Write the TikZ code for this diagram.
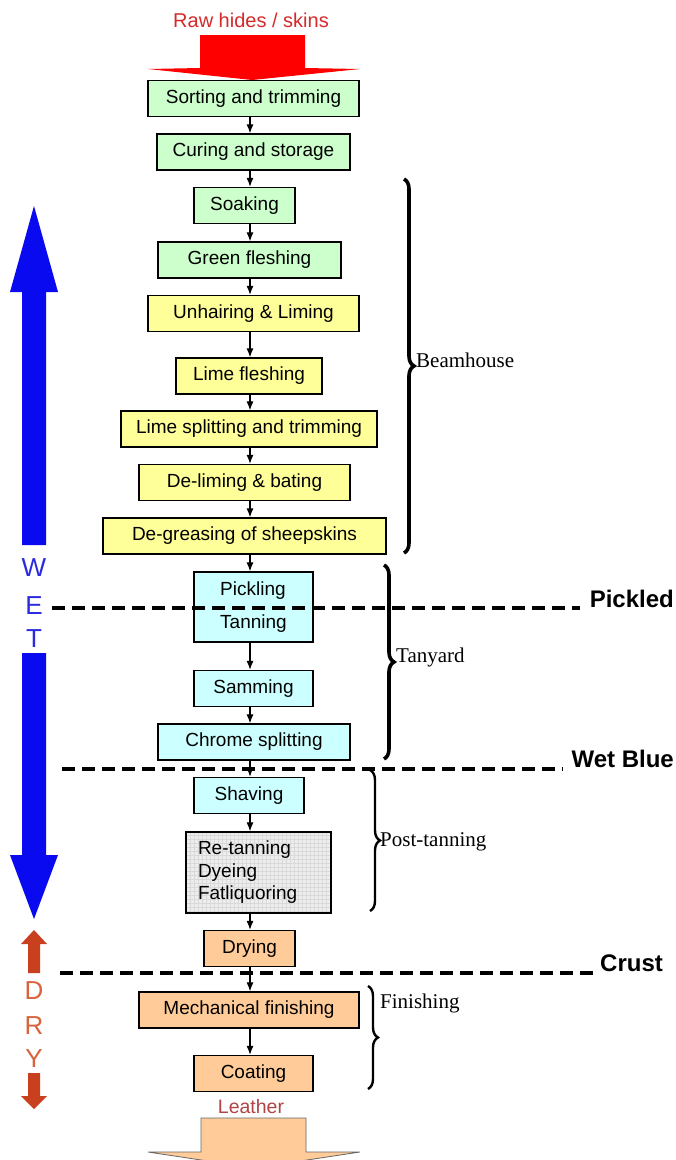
\documentclass[tikz,border=0pt]{standalone}
\usepackage{fontspec}
\setmainfont{Liberation Sans}
\newfontfamily\phasefont{Liberation Serif}
\usetikzlibrary{arrows.meta,decorations.pathreplacing}
\definecolor{boxgreen}{HTML}{CCFFCC}
\definecolor{boxyellow}{HTML}{FFFF99}
\definecolor{boxcyan}{HTML}{CCFFFF}
\definecolor{boxpeach}{HTML}{FFCC99}
\definecolor{boxgrey}{HTML}{EDEDED}
\definecolor{wetblue}{HTML}{0A0AF0}
\definecolor{wetletter}{HTML}{2A2AE0}
\definecolor{dryred}{HTML}{C8401E}
\definecolor{dryletter}{HTML}{D9633C}
\definecolor{rawred}{HTML}{D42A2A}
\definecolor{leatherred}{HTML}{B04444}
\tikzset{
  stage/.style={draw=black, line width=1.3pt, minimum height=36pt,
                inner sep=0pt, font=\fontsize{19}{22}\selectfont},
  flow/.style={-{Latex[length=9pt,width=7pt]}, line width=1.1pt},
  cut/.style={line width=3.5pt, dash pattern=on 13pt off 7pt},
  phase/.style={decorate, decoration={brace, amplitude=10pt}},
  phasetext/.style={anchor=west, inner sep=0pt,
                    font=\phasefont\fontsize{21}{22}\selectfont},
  statetext/.style={inner sep=0pt, font=\bfseries\fontsize{24}{26}\selectfont},
  bigletter/.style={inner sep=0pt, font=\fontsize{26}{28}\selectfont},
}
\begin{document}
\begin{tikzpicture}[x=1pt,y=-1pt]%{{{
\clip (0,0) rectangle (676,1160);
\fill[white] (0,0) rectangle (676,1160);
\coordinate (axis) at (250,0);
%
% Raw hides in
\node[text=rawred, inner sep=0pt, font=\fontsize{20}{22}\selectfont]
     (raw) at (251,20) {Raw hides / skins};
\fill[red] (200,35) -- (305,35) -- (305,68) -- (360,69)
        -- (252,80) -- (148,69) -- (200,68) -- cycle;
%
% Process steps
\node[stage, fill=boxgreen,  minimum width=211] (sort)     at (253.5,98.5)  {Sorting and trimming};
\node[stage, fill=boxgreen,  minimum width=193] (cure)     at (253.5,152)   {Curing and storage};
\node[stage, fill=boxgreen,  minimum width=101] (soak)     at (244.5,205.5) {Soaking};
\node[stage, fill=boxgreen,  minimum width=183] (green)    at (249.5,260)   {Green fleshing};
\node[stage, fill=boxyellow, minimum width=211] (unhair)   at (253.5,313.5) {Unhairing \& Liming};
\node[stage, fill=boxyellow, minimum width=146] (limefl)   at (249,376)     {Lime fleshing};
\node[stage, fill=boxyellow, minimum width=256] (limesp)   at (249,429)     {Lime splitting and trimming};
\node[stage, fill=boxyellow, minimum width=211] (delime)   at (244.5,482.5) {De-liming \& bating};
\node[stage, fill=boxyellow, minimum width=283] (degrease) at (244.5,536)   {De-greasing of sheepskins};
\node[stage, fill=boxcyan,   minimum width=119, minimum height=70, align=left,
      font=\fontsize{19}{33}\selectfont]          (pickle)   at (253.5,607)   {Pickling\\Tanning};
\node[stage, fill=boxcyan,   minimum width=119] (samm)     at (253.5,688.5) {Samming};
\node[stage, fill=boxcyan,   minimum width=192] (chrome)   at (254,742)     {Chrome splitting};
\node[stage, fill=boxcyan,   minimum width=110] (shave)    at (249,795.5)   {Shaving};
\node[stage, fill=boxgrey,   minimum width=145, minimum height=81,
      text width=121, align=left, font=\fontsize{19}{22.5}\selectfont,
      path picture={\draw[gray!30, line width=0.3pt]
        (path picture bounding box.south west) grid[step=4pt]
        (path picture bounding box.north east);}]
                                                (retan)    at (258.5,872.5) {Re-tanning\\Dyeing\\Fatliquoring};
\node[stage, fill=boxpeach,  minimum width=91]  (dry)      at (249.5,948.5) {Drying};
\node[stage, fill=boxpeach,  minimum width=220] (mech)     at (249,1010)    {Mechanical finishing};
\node[stage, fill=boxpeach,  minimum width=119] (coat)     at (253.5,1073.5){Coating};
%
% Arrows between steps
\foreach \a/\b in {sort/cure, cure/soak, soak/green, green/unhair,
                   unhair/limefl, limefl/limesp, limesp/delime,
                   delime/degrease, degrease/pickle, pickle/samm,
                   samm/chrome, chrome/shave, shave/retan, retan/dry,
                   dry/mech, mech/coat}
  \draw[flow] (\a.south -| axis) -- (\b.north -| axis);
%
% Leather out
\node[text=leatherred, inner sep=0pt, font=\fontsize{19.5}{21}\selectfont]
     (leather) at (251,1107) {Leather};
\filldraw[fill=boxpeach, draw=black!60, line width=0.8pt]
          (201,1118) -- (306,1118) -- (306,1152) -- (360,1152)
       -- (254,1168) -- (148,1152) -- (201,1152) -- cycle;
%
% States (dashed cuts)
\draw[cut] (52,608) -- (580,608);
\node[statetext, anchor=base east] (pickled) at (674,607) {Pickled};
\draw[cut] (62,769) -- (563,769);
\node[statetext, anchor=base east] (wetbl) at (674,767) {Wet Blue};
\draw[cut] (60,973) -- (595,973);
\node[statetext, anchor=base west] (crust) at (600,971) {Crust};
%
% Braces
\draw[phase, line width=3.6pt] (404,179) -- (404,553);
\node[phasetext] (beam) at (416,360) {Beamhouse};
\draw[phase, line width=3.6pt] (384,565) -- (384,759);
\node[phasetext] (tanyard) at (396,657) {Tanyard};
\draw[phase, line width=2.4pt] (370,770) -- (370,911);
\node[phasetext] (posttan) at (380,842) {Post-tanning};
\draw[phase, line width=2.4pt] (368,986) -- (368,1089);
\node[phasetext] (finish) at (380,1003) {Finishing};
%
% WET arrow
\fill[wetblue] (22,545) -- (22,292) -- (10,292) -- (34,206)
            -- (58,292) -- (46,292) -- (46,545) -- cycle;
\fill[wetblue] (22,653) -- (22,855) -- (10,855) -- (34,919)
            -- (58,855) -- (46,855) -- (46,653) -- cycle;
\foreach \c/\y [count=\i] in {W/568, E/606, T/639}
  \node[bigletter, text=wetletter] (wet\i) at (34,\y) {\c};
%
% DRY arrow
\fill[dryred] (28,973) -- (28,944) -- (21,944) -- (34,930)
           -- (47,944) -- (40,944) -- (40,973) -- cycle;
\fill[dryred] (28,1073) -- (28,1096) -- (21,1096) -- (34,1109)
           -- (47,1096) -- (40,1096) -- (40,1073) -- cycle;
\foreach \c/\y [count=\i] in {D/991, R/1026, Y/1059}
  \node[bigletter, text=dryletter] (dry\i) at (34,\y) {\c};
%
\end{tikzpicture}
\end{document}
